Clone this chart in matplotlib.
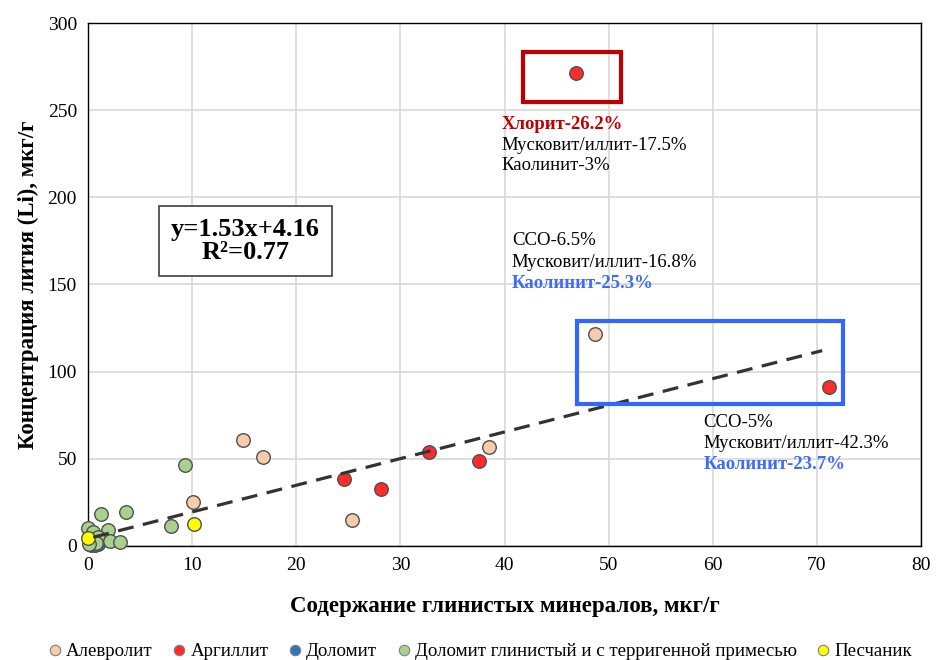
import numpy as np
import matplotlib
matplotlib.use("Agg")
import matplotlib.pyplot as plt
from matplotlib.patches import Rectangle
from matplotlib.lines import Line2D

plt.rcParams['font.family'] = ['Liberation Serif', 'DejaVu Serif']

# clay mineral content (x) vs lithium concentration (y)
alevrolit_x = [14.9, 16.8, 10.1, 25.3, 38.5, 48.7]
alevrolit_y = [60.8, 51.0, 25.0, 15.0, 57.0, 121.6]

argillit_x = [24.6, 28.1, 32.7, 37.5, 46.9, 71.2]
argillit_y = [38.4, 32.7, 54.0, 48.8, 271.4, 91.2]

dolomit_x = [0.3, 1.0, 0.7]
dolomit_y = [0.5, 1.0, 0.2]

dol_clay_x = [9.3, 1.2, 3.6, 8.0, 0.0, 0.5, 1.9, 1.0, 2.1, 3.1, 0.2, 0.8, 0.1]
dol_clay_y = [46.5, 18.4, 19.5, 11.5, 10.0, 8.0, 9.0, 5.0, 3.0, 2.3, 3.0, 1.7, 0.8]

peschanik_x = [10.2, 0.0]
peschanik_y = [12.6, 4.6]

groups = [
    ("Алевролит", alevrolit_x, alevrolit_y, "#F8CBAD"),
    ("Аргиллит", argillit_x, argillit_y, "#FF2A2A"),
    ("Доломит", dolomit_x, dolomit_y, "#2E75B6"),
    ("Доломит глинистый и с терригенной примесью", dol_clay_x, dol_clay_y, "#A9D18E"),
    ("Песчаник", peschanik_x, peschanik_y, "#FFFF00"),
]

slope, intercept = 1.53, 4.16
trend_x = [0.5, 70.5]

fig = plt.figure(figsize=(9.37, 6.6), dpi=100)
ax = fig.add_axes([0.094, 0.173, 0.889, 0.792])

for name, xs, ys, col in groups:
    ax.scatter(xs, ys, s=95, c=col, edgecolors="#505050", linewidths=1.0, zorder=3, clip_on=False)

tx = np.array(trend_x)
ax.plot(tx, slope * tx + intercept, ls=(0, (5, 3)), color="#333333", lw=2.3, zorder=4)

ax.set_xlim(0, 80)
ax.set_ylim(0, 300)
ax.set_xticks(range(0, 81, 10))
ax.set_yticks(range(0, 301, 50))
ax.grid(True, color="#D9D9D9", lw=1.2)
ax.set_axisbelow(True)
ax.tick_params(length=0, labelsize=14, pad=8)
for s in ax.spines.values():
    s.set_color("black")
    s.set_linewidth(1.0)

ax.set_xlabel("Содержание глинистых минералов, мкг/г", fontsize=16.5, fontweight="bold", labelpad=16)
ax.set_ylabel("Концентрация лития (Li), мкг/г", fontsize=16.5, fontweight="bold", labelpad=6)

# highlight boxes
ax.add_patch(Rectangle((41.8, 254.7), 9.4, 28.7, fill=False, ec="#C00000", lw=3, zorder=5))
ax.add_patch(Rectangle((47.0, 81.5), 25.5, 47.5, fill=False, ec="#3366FF", lw=3, zorder=5))

# annotations
fs = 13.5
ax.text(39.7, 242, "Хлорит-26.2%", color="#C00000", fontsize=fs, fontweight="bold", va="center")
ax.text(39.7, 230, "Мусковит/иллит-17.5%", fontsize=fs, va="center")
ax.text(39.7, 218, "Каолинит-3%", fontsize=fs, va="center")

ax.text(40.7, 175, "ССО-6.5%", fontsize=fs, va="center")
ax.text(40.7, 162.5, "Мусковит/иллит-16.8%", fontsize=fs, va="center")
ax.text(40.7, 150.5, "Каолинит-25.3%", color="#3D6BFF", fontsize=fs, fontweight="bold", va="center")

ax.text(59.1, 70.5, "ССО-5%", fontsize=fs, va="center")
ax.text(59.1, 58.5, "Мусковит/иллит-42.3%", fontsize=fs, va="center")
ax.text(59.1, 46.5, "Каолинит-23.7%", color="#3D6BFF", fontsize=fs, fontweight="bold", va="center")

ax.text(15.1, 175, "y=1.53x+4.16\nR²=0.77", fontsize=19, fontweight="bold", ha="center", va="center",
        linespacing=1.0,
        bbox=dict(boxstyle="square,pad=0.45", fc="white", ec="#404040", lw=1.2), zorder=6)

handles = [Line2D([], [], marker="o", ls="", markersize=7.5, markerfacecolor=c,
                  markeredgecolor="#808080", markeredgewidth=0.8) for _, _, _, c in groups]
fig.legend(handles, [g[0] for g in groups], loc="lower center", bbox_to_anchor=(0.510, -0.026),
           ncol=5, frameon=False, fontsize=13.6, handletextpad=0.0, columnspacing=0.8,
           handlelength=1.2)

fig.savefig("out.png", dpi=100)
